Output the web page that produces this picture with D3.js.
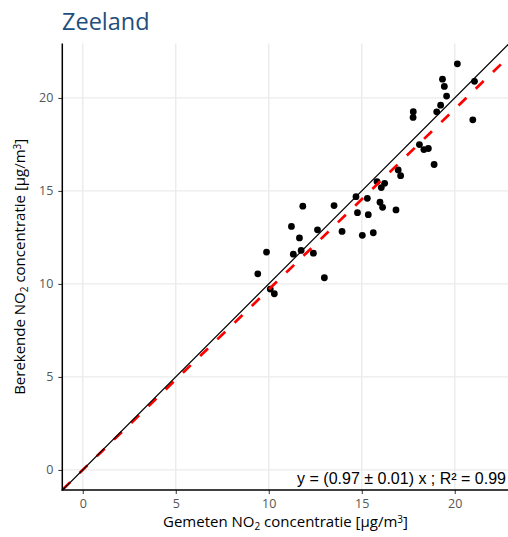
<!DOCTYPE html>
<html>
<head>
<meta charset="utf-8">
<script src="https://cdn.jsdelivr.net/npm/d3@7"></script>
<style>
  html, body { margin: 0; padding: 0; background: #fff; }
  svg { display: block; }
</style>
</head>
<body>
<svg id="chart" width="508" height="537"></svg>
<script>
// Measured (Gemeten) vs. calculated (Berekende) NO2 concentrations, Zeeland
const gemeten = [
  9.41, 9.88, 10.08, 10.30, 11.22, 11.32, 11.65, 11.83, 11.74, 12.40,
  12.62, 12.99, 13.51, 13.94, 14.69, 14.77, 15.03, 15.30, 15.35, 15.62,
  15.82, 16.23, 16.05, 15.98, 16.12, 16.84, 16.96, 17.09, 17.77, 17.76,
  18.10, 18.34, 18.58, 18.89, 19.03, 19.24, 19.34, 19.44, 19.56, 20.14,
  20.97, 21.06
];
const berekend = [
  10.54, 11.71, 9.72, 9.47, 13.09, 11.60, 12.47, 14.18, 11.80, 11.65,
  12.91, 10.33, 14.21, 12.82, 14.69, 13.83, 12.61, 14.60, 13.72, 12.75,
  15.50, 15.41, 15.18, 14.39, 14.12, 13.98, 16.13, 15.82, 19.26, 18.95,
  17.49, 17.22, 17.28, 16.42, 19.25, 19.61, 21.01, 20.62, 20.10, 21.83,
  18.82, 20.89
];
const tickValues = [0, 5, 10, 15, 20];
const fitSlope = 0.97;
const fitLabel = "y = (0.97 \u00b1 0.01) x ; R\u00b2 = 0.99";
const title = "Zeeland";

const svg = d3.select("#chart");
const panel = { left: 62.3, right: 508.7, top: 43.6, bottom: 490 };

const x = d3.scaleLinear().domain([-1.1, 22.9]).range([panel.left, panel.right]);
const y = d3.scaleLinear().domain([-1.08, 22.92]).range([panel.bottom, panel.top]);

const mainFont = "'Open Sans', 'Noto Sans', sans-serif";

// clip region for the panel
svg.append("defs").append("clipPath").attr("id", "panel-clip")
  .append("rect")
  .attr("x", panel.left).attr("y", panel.top)
  .attr("width", panel.right - panel.left).attr("height", panel.bottom - panel.top);

// grid
const grid = svg.append("g").attr("stroke", "#ebebeb").attr("stroke-width", 1.4);
grid.selectAll("line.v").data(tickValues).join("line")
  .attr("x1", d => x(d)).attr("x2", d => x(d))
  .attr("y1", panel.top).attr("y2", panel.bottom);
grid.selectAll("line.h").data(tickValues).join("line")
  .attr("y1", d => y(d)).attr("y2", d => y(d))
  .attr("x1", panel.left).attr("x2", panel.right);

// points
const pts = svg.append("g").attr("clip-path", "url(#panel-clip)");
pts.selectAll("circle").data(gemeten.map((g, i) => [g, berekend[i]])).join("circle")
  .attr("cx", d => x(d[0])).attr("cy", d => y(d[1]))
  .attr("r", 3.4).attr("fill", "#000");

// fitted line (dashed red) beneath the 1:1 line
const lines = svg.append("g").attr("clip-path", "url(#panel-clip)");
const xd = x.domain();
lines.append("line")
  .attr("x1", x(xd[0])).attr("y1", y(fitSlope * xd[0]))
  .attr("x2", x(xd[1])).attr("y2", y(fitSlope * xd[1]))
  .attr("stroke", "#ff0000").attr("stroke-width", 2.7)
  .attr("stroke-dasharray", "11,13");
lines.append("line")
  .attr("x1", x(xd[0])).attr("y1", y(xd[0]))
  .attr("x2", x(xd[1])).attr("y2", y(xd[1]))
  .attr("stroke", "#000").attr("stroke-width", 1.2);

// axes
const xAxis = d3.axisBottom(x).tickValues(tickValues).tickSize(4).tickPadding(5);
const yAxis = d3.axisLeft(y).tickValues(tickValues).tickSize(4).tickPadding(5);

const gx = svg.append("g").attr("transform", `translate(0,${panel.bottom})`).call(xAxis);
const gy = svg.append("g").attr("transform", `translate(${panel.left},0)`).call(yAxis);
[gx, gy].forEach(g => {
  g.select(".domain").remove();
  g.selectAll(".tick line").attr("stroke", "#333").attr("stroke-width", 1);
  g.selectAll(".tick text").attr("fill", "#555")
    .style("font-family", mainFont).style("font-size", "12.5px");
});

svg.append("line")
  .attr("x1", panel.left).attr("x2", panel.left)
  .attr("y1", panel.top).attr("y2", panel.bottom + 0.75)
  .attr("stroke", "#000").attr("stroke-width", 1.5);
svg.append("line")
  .attr("x1", panel.left - 0.75).attr("x2", panel.right)
  .attr("y1", panel.bottom).attr("y2", panel.bottom)
  .attr("stroke", "#000").attr("stroke-width", 1.5);

// fit annotation
svg.append("text")
  .attr("x", 506).attr("y", 484)
  .attr("text-anchor", "end")
  .style("font-family", "'Liberation Sans', Arial, sans-serif")
  .style("font-size", "16px")
  .attr("fill", "#000")
  .text(fitLabel);

// title
svg.append("text")
  .attr("x", 62).attr("y", 30)
  .style("font-family", mainFont)
  .style("font-size", "23.5px")
  .attr("fill", "#1f4e7d")
  .text(title);

// axis titles with subscript / superscript
function axisTitle(sel, pre) {
  sel.append("tspan").text(pre + " NO");
  sel.append("tspan").attr("baseline-shift", "-25%").style("font-size", "10px").text("2");
  sel.append("tspan").text(" concentratie [\u00b5g/m");
  sel.append("tspan").attr("baseline-shift", "40%").style("font-size", "10px").text("3");
  sel.append("tspan").text("]");
}

const xt = svg.append("text")
  .attr("x", (panel.left + panel.right) / 2).attr("y", 527)
  .attr("text-anchor", "middle")
  .style("font-family", mainFont).style("font-size", "15px").attr("fill", "#000");
axisTitle(xt, "Gemeten");

const yt = svg.append("text")
  .attr("transform", `translate(25,${(panel.top + panel.bottom) / 2}) rotate(-90)`)
  .attr("text-anchor", "middle")
  .style("font-family", mainFont).style("font-size", "15px").attr("fill", "#000");
axisTitle(yt, "Berekende");
</script>
</body>
</html>
